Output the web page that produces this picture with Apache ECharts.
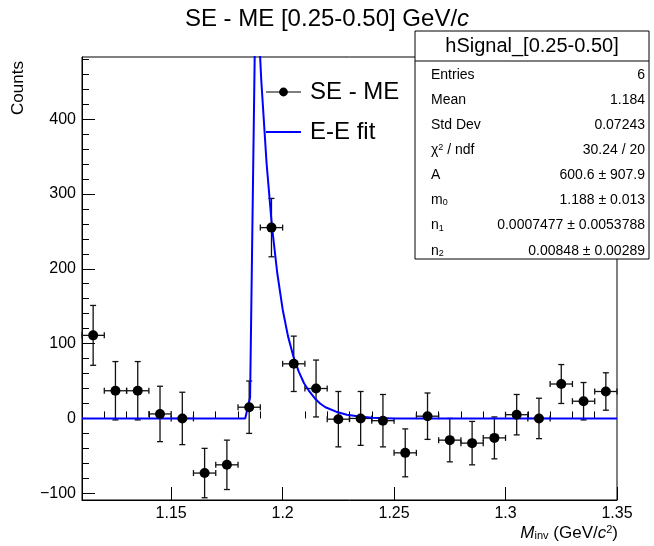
<!DOCTYPE html>
<html>
<head>
<meta charset="utf-8">
<script src="https://cdn.jsdelivr.net/npm/echarts@6/dist/echarts.min.js"></script>
<style>
html, body { margin: 0; padding: 0; background: #fff; }
#chart { width: 654px; height: 546px; }
</style>
</head>
<body>
<div id="chart"></div>
<script>
// SE - ME histogram, one point per 0.01 bin
var binCenters = [1.115, 1.125, 1.135, 1.145, 1.155, 1.165, 1.175, 1.185, 1.195, 1.205, 1.215, 1.225,
                  1.235, 1.245, 1.255, 1.265, 1.275, 1.285, 1.295, 1.305, 1.315, 1.325, 1.335, 1.345];
var counts = [111, 37, 37, 6, 0, -73, -62, 15, 255, 73, 40, -1,
              0, -3, -46, 3, -29, -33, -26, 5, 0, 46, 23, 36];
var countErrors = [40, 39, 39, 37, 35, 33, 33, 35, 39, 37, 38, 37,
                   36, 35, 32, 31, 29, 29, 28, 27, 27, 26, 25, 25];
var binHalfWidth = 0.005;

// E-E fit curve (peak goes above the frame)
var fitX = [1.11, 1.1832, 1.1854, 1.188, 1.1904, 1.1928, 1.1952, 1.1976, 1.2, 1.2024, 1.2048, 1.2072,
            1.2096, 1.212, 1.2144, 1.2168, 1.2192, 1.224, 1.2288, 1.2336, 1.24, 1.25, 1.35];
var fitY = [0, 0, 28, 600, 453, 341, 257, 194, 146, 110, 83, 63,
            47, 36, 27, 20, 15, 9, 5, 3, 1, 0, 0];

var xTicks = [1.15, 1.2, 1.25, 1.3, 1.35];
var xMinorTicks = [1.12, 1.13, 1.14, 1.16, 1.17, 1.18, 1.19, 1.21, 1.22, 1.23, 1.24,
                   1.26, 1.27, 1.28, 1.29, 1.31, 1.32, 1.33, 1.34];
var yTicks = [-100, 0, 100, 200, 300, 400];
var yMinorTicks = [-80, -60, -40, -20, 20, 40, 60, 80, 120, 140, 160, 180, 220, 240, 260, 280,
                   320, 340, 360, 380, 420, 440, 460, 480];

// stats box
var statTitle = 'hSignal_[0.25-0.50]';
var statNames = ['Entries', 'Mean', 'Std Dev', '{g|χ}{sup|2}{g| / ndf}', 'A', 'm{sub|0}', 'n{sub|1}', 'n{sub|2}'];
var statValues = ['6', '1.184', '0.07243', '30.24 / 20', '600.6 ± 907.9', '1.188 ± 0.013',
                  '0.0007477 ± 0.0053788', '0.00848 ± 0.00289'];

var font = 'Liberation Sans';
var chart = echarts.init(document.getElementById('chart'));

var points = binCenters.map(function (x, i) { return [x, counts[i]]; });
var errData = binCenters.map(function (x, i) { return [x, counts[i], countErrors[i]]; });
var fitData = fitX.map(function (x, i) { return [x, fitY[i]]; });

var graphics = [];
//统计框
graphics.push({type: 'rect', z: 10, shape: {x: 415, y: 31, width: 234, height: 228},
  style: {fill: '#fff', stroke: '#000', lineWidth: 1}});
graphics.push({type: 'line', z: 11, shape: {x1: 415, y1: 61, x2: 649, y2: 61},
  style: {stroke: '#000', lineWidth: 1}});
graphics.push({type: 'text', z: 11, x: 532, y: 46,
  style: {text: statTitle, font: '20px ' + font, fill: '#000', align: 'center', verticalAlign: 'middle'}});
var subStyle = {fontSize: 9, fontFamily: font, verticalAlign: 'bottom', lineHeight: 5};
var supStyle = {fontSize: 9, fontFamily: font, verticalAlign: 'top', lineHeight: 6};
statNames.forEach(function (name, i) {
  var y = 75 + i * 25.1;
  graphics.push({type: 'text', z: 11, x: 431, y: y,
    style: {text: name, fontSize: 14, fontFamily: font, fill: '#000', align: 'left', verticalAlign: 'middle',
      rich: {sub: subStyle, sup: supStyle, g: {fontSize: 14, fontFamily: font}}}});
  graphics.push({type: 'text', z: 11, x: 645, y: y,
    style: {text: statValues[i], fontSize: 14, fontFamily: font, fill: '#000', align: 'right', verticalAlign: 'middle'}});
});
// axis titles
graphics.push({type: 'text', x: 18, y: 88, rotation: Math.PI / 2,
  style: {text: 'Counts', fontSize: 17, fontFamily: font, fill: '#000', align: 'center', verticalAlign: 'middle'}});
graphics.push({type: 'text', x: 618, y: 533,
  style: {text: '{i|M}{sub|inv}{n| (GeV/}{i|c}{sup|2}{n|)}', fontSize: 17, fontFamily: font, fill: '#000',
    align: 'right', verticalAlign: 'middle',
    rich: {
      i: {fontSize: 17, fontFamily: font, fontStyle: 'italic'},
      n: {fontSize: 17, fontFamily: font},
      sub: {fontSize: 11, fontFamily: font, verticalAlign: 'bottom', lineHeight: 7},
      sup: {fontSize: 11, fontFamily: font, verticalAlign: 'top', lineHeight: 8}
    }}});

var option = {
  animation: false,
  textStyle: {fontFamily: font},
  title: {
    text: 'SE - ME [0.25-0.50] GeV/{i|c}',
    left: 'center',
    top: 7,
    padding: 0,
    textStyle: {
      fontSize: 24, fontWeight: 'normal', color: '#000', fontFamily: font,
      rich: {i: {fontSize: 24, fontStyle: 'italic', fontFamily: font, color: '#000'}}
    }
  },
  legend: {
    orient: 'vertical',
    left: 265,
    top: 80,
    padding: 0,
    itemWidth: 35,
    itemHeight: 11,
    itemGap: 16,
    selectedMode: false,
    textStyle: {fontSize: 24, color: '#000', fontFamily: font, padding: [0, 0, 0, 4]},
    data: [
      {name: 'SE - ME', lineStyle: {width: 1, color: '#000', opacity: 1}},
      {name: 'E-E fit', itemStyle: {opacity: 0}}
    ]
  },
  grid: {left: 82, right: 37, top: 57, bottom: 46, show: true, borderColor: '#000', borderWidth: 1},
  xAxis: [{
    type: 'value', min: 1.11, max: 1.35,
    axisLine: {show: true, onZero: false, lineStyle: {color: '#000', width: 1}},
    axisTick: {show: true, inside: true, length: 13, customValues: xTicks, lineStyle: {color: '#000'}},
    axisLabel: {show: true, customValues: xTicks, margin: 6, fontSize: 16, color: '#000', fontFamily: font},
    splitLine: {show: false}
  }, {
    type: 'value', min: 1.11, max: 1.35, position: 'bottom',
    axisLine: {show: false},
    axisTick: {show: true, inside: true, length: 7, customValues: xMinorTicks, lineStyle: {color: '#000'}},
    axisLabel: {show: false},
    splitLine: {show: false}
  }],
  yAxis: [{
    type: 'value', min: -109, max: 483,
    axisLine: {show: true, onZero: false, lineStyle: {color: '#000', width: 1}},
    axisTick: {show: true, inside: true, length: 13, customValues: yTicks, lineStyle: {color: '#000'}},
    axisLabel: {
      show: true, customValues: yTicks, margin: 6, fontSize: 16, color: '#000', fontFamily: font,
      formatter: function (v) { return v < 0 ? '\u2212' + Math.abs(v) : String(v); }
    },
    splitLine: {show: false}
  }, {
    type: 'value', min: -109, max: 483, position: 'left',
    axisLine: {show: false},
    axisTick: {show: true, inside: true, length: 7, customValues: yMinorTicks, lineStyle: {color: '#000'}},
    axisLabel: {show: false},
    splitLine: {show: false}
  }],
  series: [{
    name: 'errors',
    type: 'custom',
    z: 2,
    silent: true,
    encode: {x: 0, y: 1},
    renderItem: function (params, api) {
      var x = api.value(0), y = api.value(1), e = api.value(2);
      var l = api.coord([x - binHalfWidth, y]);
      var r = api.coord([x + binHalfWidth, y]);
      var t = api.coord([x, y + e]);
      var b = api.coord([x, y - e]);
      var cap = 3;
      var st = {stroke: '#111', lineWidth: 1.3};
      return {type: 'group', children: [
        {type: 'line', shape: {x1: l[0], y1: l[1], x2: r[0], y2: r[1]}, style: st},
        {type: 'line', shape: {x1: t[0], y1: t[1], x2: b[0], y2: b[1]}, style: st},
        {type: 'line', shape: {x1: l[0], y1: l[1] - cap, x2: l[0], y2: l[1] + cap}, style: st},
        {type: 'line', shape: {x1: r[0], y1: r[1] - cap, x2: r[0], y2: r[1] + cap}, style: st},
        {type: 'line', shape: {x1: t[0] - cap, y1: t[1], x2: t[0] + cap, y2: t[1]}, style: st},
        {type: 'line', shape: {x1: b[0] - cap, y1: b[1], x2: b[0] + cap, y2: b[1]}, style: st}
      ]};
    },
    data: errData
  }, {
    name: 'E-E fit',
    type: 'line',
    z: 3,
    symbol: 'none',
    clip: true,
    color: '#0000ff',
    lineStyle: {color: '#0000ff', width: 2},
    data: fitData
  }, {
    name: 'SE - ME',
    type: 'line',
    z: 4,
    symbol: 'circle',
    symbolSize: 10,
    showAllSymbol: true,
    color: '#000',
    itemStyle: {color: '#000'},
    lineStyle: {width: 0},
    data: points
  }],
  graphic: graphics
};
chart.setOption(option);
</script>
</body>
</html>
